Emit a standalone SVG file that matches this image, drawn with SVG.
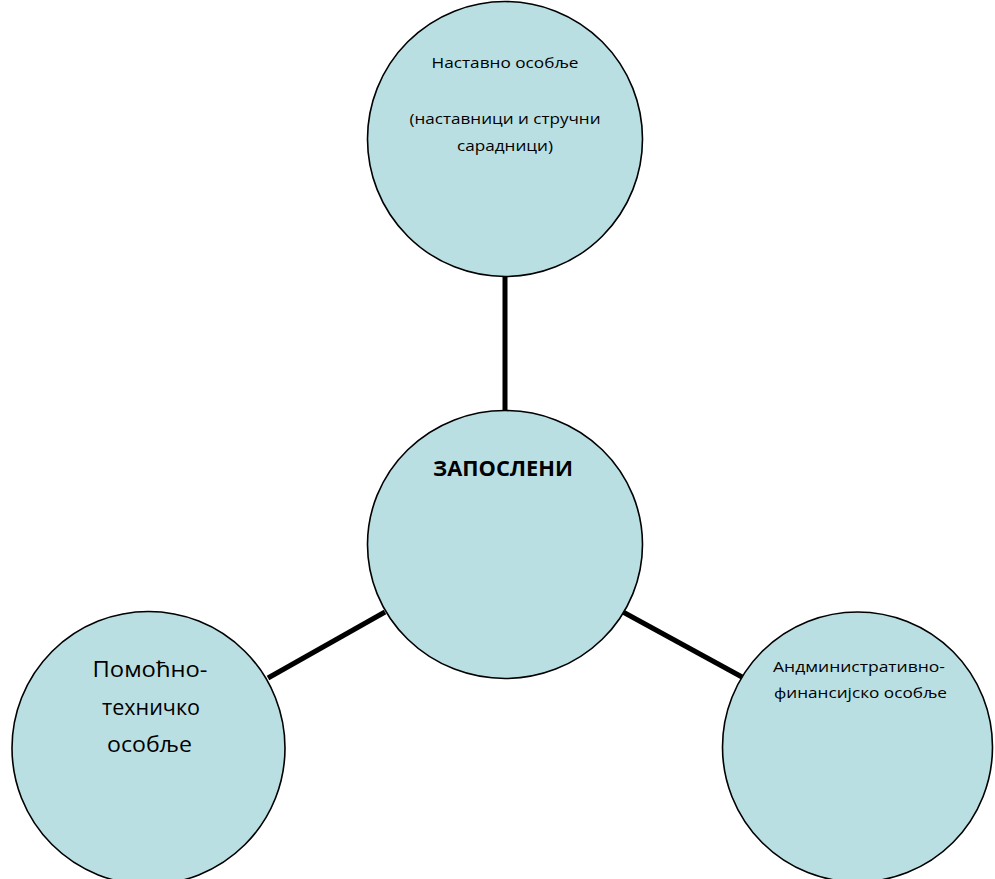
<svg xmlns="http://www.w3.org/2000/svg" width="995" height="879" viewBox="0 0 995 879">
<style>
.node{fill:#B9DFE3;stroke:#000;stroke-width:1.6}
.lnk{stroke:#000;stroke-width:5;stroke-linecap:butt}
.t{font-family:"Open Sans","Noto Sans",sans-serif;fill:#000;text-anchor:middle}
</style>
<rect width="995" height="879" fill="#fff"/>
<g id="connectors">
<line class="lnk" x1="505" y1="276" x2="505" y2="411"/>
<line class="lnk" x1="268" y1="678" x2="385" y2="612"/>
<line class="lnk" x1="623" y1="612" x2="742" y2="677"/>
</g>
<g id="node-top">
<circle class="node" cx="505" cy="139" r="137.5"/>
<text class="t" x="505" y="68" font-size="15" textLength="147" lengthAdjust="spacingAndGlyphs">Наставно особље</text>
<text class="t" x="505" y="124" font-size="15" textLength="191" lengthAdjust="spacingAndGlyphs">(наставници и стручни</text>
<text class="t" x="505" y="151" font-size="15" textLength="96" lengthAdjust="spacingAndGlyphs">сарадници)</text>
</g>
<g id="node-center">
<ellipse class="node" cx="505" cy="544.5" rx="137.5" ry="134"/>
<text class="t" x="503" y="476" font-size="21" font-weight="bold" textLength="140" lengthAdjust="spacingAndGlyphs">ЗАПОСЛЕНИ</text>
</g>
<g id="node-left">
<circle class="node" cx="148.5" cy="748" r="136.5"/>
<text class="t" x="150" y="677" font-size="21" textLength="115" lengthAdjust="spacingAndGlyphs">Помоћно-</text>
<text class="t" x="151" y="715" font-size="21" textLength="98" lengthAdjust="spacingAndGlyphs">техничко</text>
<text class="t" x="149.5" y="752" font-size="21" textLength="85" lengthAdjust="spacingAndGlyphs">особље</text>
</g>
<g id="node-right">
<circle class="node" cx="857.5" cy="747" r="135"/>
<text class="t" x="859" y="672" font-size="15" textLength="172" lengthAdjust="spacingAndGlyphs">Андминистративно-</text>
<text class="t" x="860.5" y="698" font-size="15" textLength="173" lengthAdjust="spacingAndGlyphs">финансијско особље</text>
</g>
</svg>
